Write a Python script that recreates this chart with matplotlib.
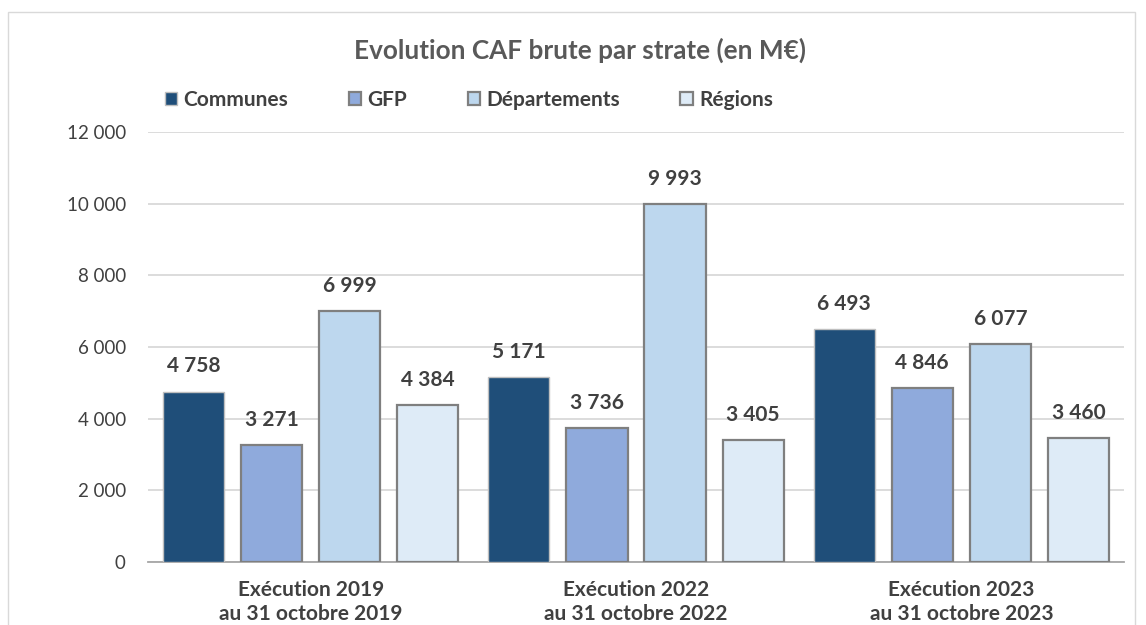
import matplotlib.pyplot as plt
import matplotlib.patches as patches
import numpy as np

plt.rcParams['font.family'] = ['Lato', 'DejaVu Sans']

categories = ['Exécution 2019\nau 31 octobre 2019',
              'Exécution 2022\nau 31 octobre 2022',
              'Exécution 2023\nau 31 octobre 2023']
series = ['Communes', 'GFP', 'Départements', 'Régions']
communes = [4758, 5171, 6493]
gfp = [3271, 3736, 4846]
departements = [6999, 9993, 6077]
regions = [4384, 3405, 3460]
yticks = [0, 2000, 4000, 6000, 8000, 10000, 12000]

colors = ['#1F4E79', '#8FAADC', '#BDD7EE', '#DEEBF7']
edges = ['#BFBFBF', '#7F7F7F', '#7F7F7F', '#7F7F7F']
TXT = '#404040'


def fmt(v):
    return f'{v:,}'.replace(',', ' ')


fig = plt.figure(figsize=(11.46, 6.25), dpi=100)
ax = fig.add_axes([148 / 1146, 1 - 562 / 625, 976 / 1146, 430 / 625])

# outer chart frame
fig.patches.append(patches.Rectangle((8 / 1146, -0.05), 1127 / 1146, 1 - 12 / 625 + 0.05,
                                     transform=fig.transFigure, fill=False,
                                     edgecolor='#D9D9D9', linewidth=1))

x = np.arange(len(categories))
step = 0.24
width = 0.188
data = [communes, gfp, departements, regions]
for i, (name, vals) in enumerate(zip(series, data)):
    pos = x + (i - 1.5) * step
    ax.bar(pos, vals, width, color=colors[i], edgecolor=edges[i],
           linewidth=1.0 if i == 0 else 1.6, label=name, zorder=3)
    for px, v in zip(pos, vals):
        ax.text(px, v + 700, fmt(v), ha='center', va='center', fontsize=15,
                fontweight='bold', color=TXT)

ax.set_xlim(-0.5, 2.5)
ax.set_ylim(0, 12000)
ax.set_yticks(yticks)
ax.set_yticklabels([fmt(t) for t in yticks], fontsize=13.5, color=TXT)
ax.set_xticks(x)
ax.set_xticklabels(categories, fontsize=15, fontweight='bold', color=TXT,
                   linespacing=1.25)
ax.tick_params(axis='both', length=0)
ax.tick_params(axis='y', pad=16)
ax.tick_params(axis='x', pad=13)
ax.grid(axis='y', color='#D9D9D9', linewidth=1.3, zorder=0)
for s in ['top', 'right', 'left']:
    ax.spines[s].set_visible(False)
ax.spines['bottom'].set_color('#A6A6A6')
ax.spines['bottom'].set_linewidth(1.3)

fig.text(580 / 1146, 1 - 50 / 625, 'Evolution CAF brute par strate (en M€)',
         ha='center', va='center', fontsize=18.8, fontweight='bold', color='#595959')

leg = fig.legend(loc='center left', bbox_to_anchor=(146 / 1146, 1 - 100 / 625), ncol=4,
                 frameon=False, handlelength=0.6, handleheight=0.6, handletextpad=0.3,
                 columnspacing=2.9, prop={'size': 15, 'weight': 'bold'})
for t in leg.get_texts():
    t.set_color(TXT)

fig.savefig('out.png', dpi=100, facecolor='white')
